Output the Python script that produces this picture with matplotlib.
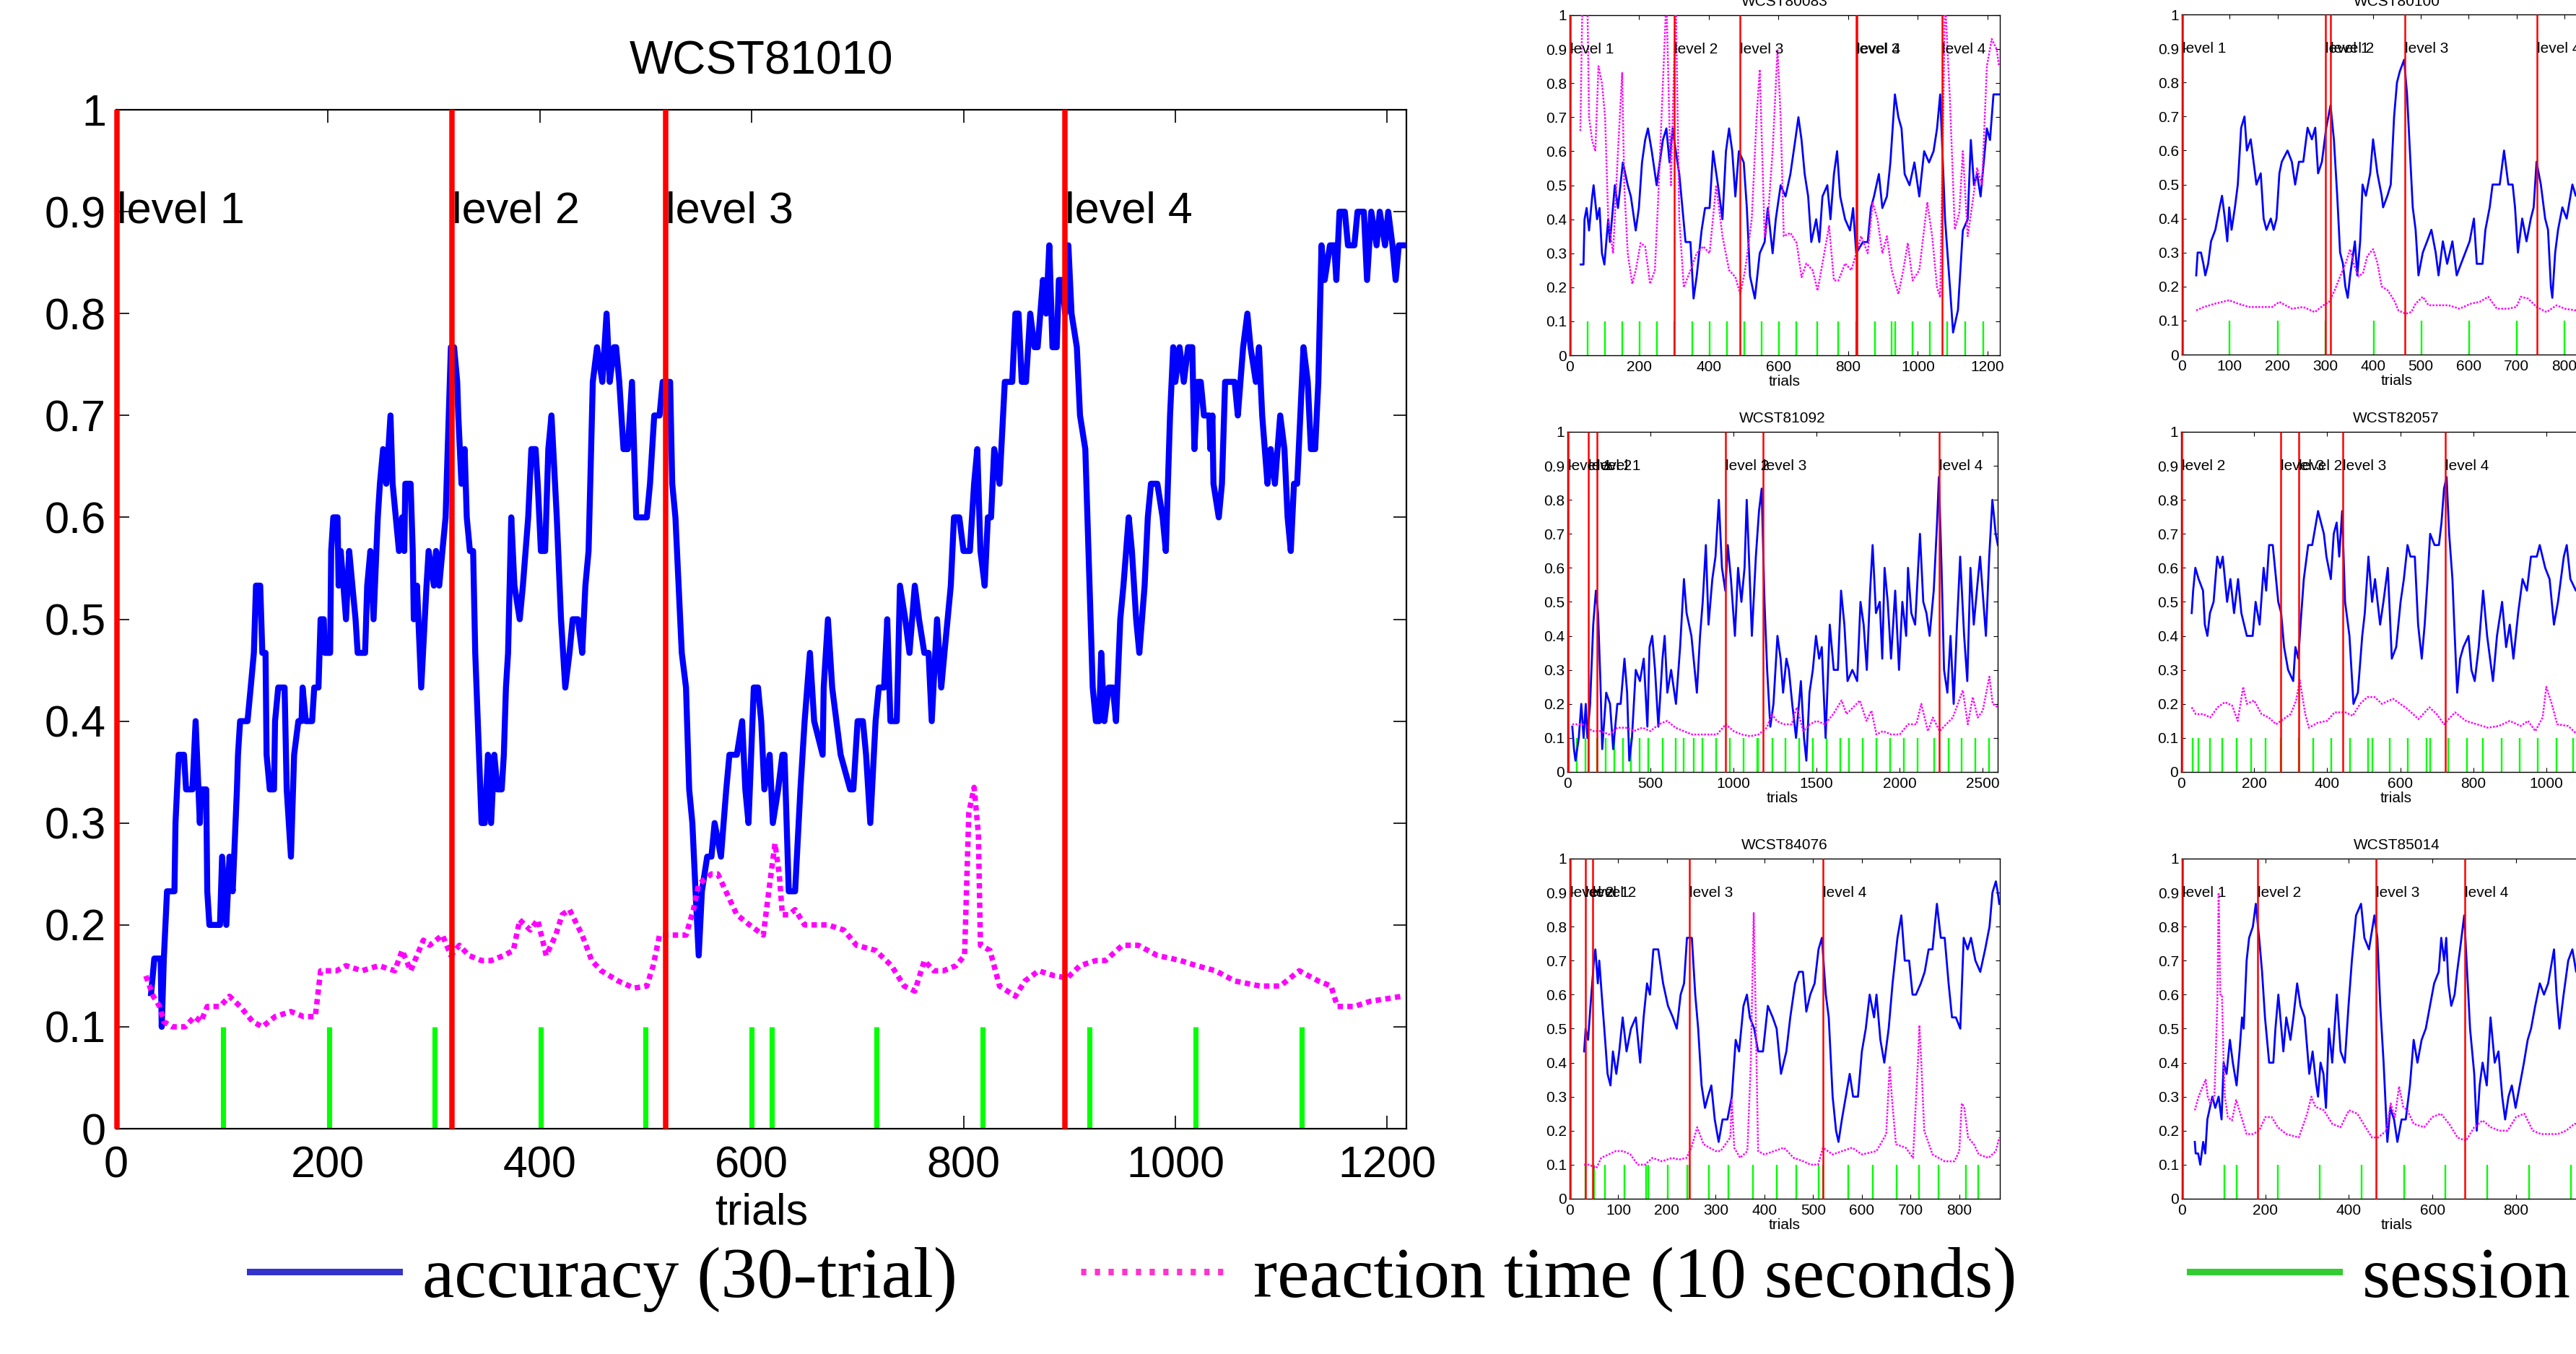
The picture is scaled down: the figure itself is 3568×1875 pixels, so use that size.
import matplotlib
matplotlib.use("Agg")
import matplotlib.pyplot as plt
from matplotlib.lines import Line2D

plt.rcParams['font.family'] = ['Liberation Sans', 'DejaVu Sans']

# ---------------------------------------------------------------- data
# accuracy / reaction time as (trial, value)

main_title = "WCST81010"
main_acc = [(33,0.133),(36,0.167),(42,0.167),(43,0.1),(45,0.167),(48,0.233),(55,0.233),(56,0.3),(59,0.367),(64,0.367),(66,0.333),(72,0.333),(75,0.4),(79,0.3),(80,0.333),(85,0.333),(86,0.233),(88,0.2),(98,0.2),(100,0.267),(104,0.2),(107,0.267),(110,0.233),(114,0.333),(115,0.367),(117,0.4),(124,0.4),(127,0.433),(130,0.467),(132,0.533),(136,0.533),(138,0.467),(141,0.467),(142,0.367),(145,0.333),(149,0.333),(150,0.4),(153,0.433),(159,0.433),(161,0.333),(165,0.267),(168,0.367),(172,0.4),(175,0.4),(176,0.433),(179,0.4),(185,0.4),(187,0.433),(191,0.433),(193,0.5),(196,0.5),(197,0.467),(202,0.467),(203,0.567),(205,0.6),(209,0.6),(210,0.533),(212,0.567),(217,0.5),(220,0.567),(223,0.533),(226,0.5),(228,0.467),(235,0.467),(236,0.5),(237,0.533),(240,0.567),(243,0.5),(247,0.6),(249,0.633),(252,0.667),(255,0.633),(257,0.667),(259,0.7),(261,0.633),(264,0.6),(267,0.567),(270,0.6),(272,0.567),(273,0.633),(278,0.633),(280,0.567),(281,0.5),(284,0.533),(288,0.433),(293,0.533),(295,0.567),(300,0.533),(302,0.567),(305,0.533),(308,0.567),(311,0.6),(313,0.667),(316,0.767),(319,0.767),(322,0.733),(323,0.7),(326,0.633),(329,0.667),(331,0.6),(334,0.567),(337,0.567),(339,0.467),(345,0.3),(348,0.3),(351,0.367),(354,0.3),(357,0.367),(360,0.333),(364,0.333),(366,0.367),
            (368,0.433),(370,0.467),(373,0.6),(376,0.533),(381,0.5),(384,0.533),(389,0.6),(392,0.667),(396,0.667),(398,0.633),(401,0.567),(405,0.567),(408,0.667),(411,0.7),(416,0.6),(420,0.5),(424,0.433),(428,0.467),(431,0.5),(436,0.5),(440,0.467),(443,0.533),(446,0.567),(450,0.733),(454,0.767),(459,0.733),(463,0.8),(466,0.733),(470,0.767),(472,0.767),(475,0.733),(479,0.667),(483,0.667),(487,0.733),(491,0.6),(495,0.6),(501,0.6),(504,0.633),(508,0.7),(513,0.7),(516,0.733),(523,0.733),(525,0.633),(528,0.6),(531,0.533),(534,0.467),(538,0.433),(541,0.333),(544,0.3),(547,0.233),(550,0.17),(553,0.233),(558,0.267),(562,0.267),(565,0.3),(571,0.267),(576,0.333),(579,0.367),(586,0.367),(591,0.4),(594,0.333),(597,0.3),(602,0.433),(606,0.433),(609,0.4),(612,0.333),(617,0.367),(620,0.3),(625,0.333),(629,0.367),(631,0.367),(635,0.233),(641,0.233),(646,0.333),(650,0.4),(655,0.467),(659,0.4),(667,0.367),(668,0.433),(672,0.5),(676,0.433),(684,0.367),(693,0.333),(696,0.333),(700,0.4),(705,0.4),(708,0.367),(712,0.3),(717,0.4),(720,0.433),(725,0.433),(728,0.5),(731,0.4),(737,0.4),(740,0.533),(745,0.5),(749,0.467),(754,0.533),(758,0.5),(763,0.467),(767,0.467),(770,0.4),(775,0.5),
            (779,0.433),(782,0.467),(785,0.5),(788,0.533),(791,0.6),(796,0.6),(800,0.567),(806,0.567),(810,0.633),(813,0.667),(816,0.567),(820,0.533),(823,0.6),(826,0.6),(829,0.667),(834,0.633),(839,0.733),(846,0.733),(849,0.8),(852,0.8),(855,0.733),(859,0.733),(863,0.8),(867,0.767),(870,0.767),(875,0.833),(878,0.8),(881,0.867),(884,0.767),(888,0.767),(890,0.833),(893,0.833),(896,0.8),(899,0.867),(902,0.8),(907,0.767),(910,0.7),(915,0.667),(919,0.533),(922,0.433),(925,0.4),(928,0.4),(930,0.467),(933,0.4),(937,0.433),(941,0.433),(944,0.4),(948,0.5),(951,0.533),(956,0.6),(959,0.567),(963,0.5),(966,0.467),(971,0.533),(974,0.6),(977,0.633),(983,0.633),(988,0.6),(991,0.567),(992,0.6),(995,0.7),(998,0.767),(1000,0.733),(1004,0.767),(1008,0.733),(1012,0.767),(1016,0.767),(1018,0.667),(1021,0.733),(1024,0.733),(1027,0.7),(1032,0.7),(1033,0.667),(1035,0.7),(1036,0.633),(1041,0.6),(1044,0.633),(1047,0.733),(1056,0.733),(1059,0.7),(1064,0.767),(1068,0.8),(1071,0.767),(1076,0.733),(1079,0.767),(1082,0.7),(1087,0.633),(1090,0.667),(1094,0.633),(1099,0.7),(1103,0.667),(1106,0.6),(1109,0.567),(1112,0.633),(1115,0.633),(1118,0.7),(1121,0.767),(1125,0.733),(1128,0.667),(1132,0.667),(1135,0.733),(1138,0.867),(1141,0.833),(1146,0.867),(1150,0.867),(1152,0.833),(1155,0.9),(1160,0.9),(1163,0.867),(1169,0.867),(1172,0.9),(1178,0.9),(1181,0.833),(1185,0.9),(1190,0.867),(1193,0.9),(1198,0.867),(1201,0.9),(1205,0.867),(1208,0.833),(1211,0.867),(1217,0.867)]
main_rt = [(28,0.15),(35,0.13),(41,0.12),(45,0.105),(53,0.1),(65,0.1),(74,0.11),(80,0.105),(86,0.12),(98,0.12),(107,0.13),(117,0.12),(129,0.105),(138,0.1),(150,0.11),(165,0.115),(177,0.11),(188,0.11),(193,0.155),(208,0.155),(217,0.16),(232,0.155),(248,0.16),(263,0.155),(270,0.175),(278,0.155),(284,0.17),(290,0.185),(296,0.18),(308,0.19),(316,0.17),(324,0.18),(333,0.17),(345,0.165),(354,0.165),(366,0.17),(375,0.175),(381,0.205),(391,0.195),(398,0.205),(406,0.17),(415,0.19),(421,0.21),(428,0.215),(440,0.19),(449,0.165),(458,0.155),(474,0.145),(489,0.138),(501,0.14),(507,0.16),(513,0.19),(525,0.19),(538,0.19),(545,0.215),(550,0.24),(562,0.25),(568,0.25),(577,0.23),(586,0.21),(598,0.2),(611,0.19),(617,0.24),(622,0.28),(626,0.25),(629,0.21),(635,0.21),(641,0.215),(650,0.2),(659,0.2),(672,0.2),(687,0.195),(699,0.18),(717,0.175),(732,0.16),(744,0.14),(754,0.135),(763,0.165),(772,0.155),(781,0.155),(793,0.16),(801,0.17),(805,0.31),(810,0.335),(814,0.29),(816,0.18),(825,0.175),(834,0.14),(849,0.13),(858,0.145),(871,0.155),(886,0.15),(898,0.148),(910,0.16),(925,0.165),(934,0.165),(950,0.18),(965,0.18),(983,0.17),(1005,0.165),(1020,0.16),(1038,0.155),(1056,0.145),(1080,0.14),(1099,0.14),(1117,0.155),(1135,0.145),(1147,0.14),(1153,0.12),(1169,0.12),(1184,0.125),(1202,0.128),(1214,0.13)]
main_levels = [1, 317, 519, 896]
main_level_names = ["level 1", "level 2", "level 3", "level 4"]
main_sessions = [101, 201, 301, 401, 500, 600, 619, 718, 818, 919, 1019, 1119]
main_xticks = [0, 200, 400, 600, 800, 1000, 1200]

a_title = "WCST80083"
a_acc = [(32,0.267),(40,0.267),(43,0.4),(49,0.433),(56,0.367),(65,0.467),(69,0.5),(79,0.4),(86,0.433),(93,0.3),(100,0.267),(111,0.4),(116,0.333),(130,0.5),(139,0.433),(153,0.567),(167,0.5),(176,0.467),(190,0.367),(199,0.433),(208,0.567),(217,0.633),(225,0.667),(236,0.6),(250,0.5),(259,0.567),(268,0.633),(278,0.667),(287,0.567),(296,0.667),(305,0.6),(315,0.533),(324,0.433),(333,0.333),(347,0.333),(356,0.167),(365,0.233),(379,0.367),(389,0.433),(402,0.433),(412,0.6),(426,0.5),(439,0.4),(449,0.6),(458,0.667),(467,0.6),(476,0.467),(486,0.6),(500,0.567),(509,0.433),(518,0.233),(532,0.167),(546,0.3),(560,0.333),(569,0.433),(583,0.3),(592,0.4),(606,0.5),(620,0.467),(634,0.533),(648,0.633),(657,0.7),(666,0.633),(675,0.533),(685,0.467),(694,0.333),(708,0.4),(717,0.333),(726,0.467),(740,0.5),(749,0.4),(759,0.533),(768,0.6),(777,0.467),(791,0.4),(805,0.367),(814,0.433),(823,0.3),(842,0.333),(856,0.333),(865,0.433),(874,0.467),(888,0.533),(898,0.433),(911,0.467),(921,0.567),(934,0.767),(944,0.7),(953,0.667),(962,0.533),(976,0.5),(990,0.567),(1004,0.467),(1018,0.6),(1032,0.567),(1045,0.6),(1055,0.667),(1064,0.767),(1078,0.4),(1092,0.2),(1101,0.067),(1115,0.133),(1129,0.367),(1143,0.4),(1152,0.633),(1161,0.5),(1170,0.533),(1180,0.467),(1189,0.567),(1198,0.667),(1207,0.633),(1217,0.767),(1233,0.767)]
a_rt = [(31,0.66),(37,1.05),(51,1.05),(56,0.7),(65,0.63),(74,0.6),(83,0.85),(93,0.8),(102,0.7),(111,0.4),(125,0.3),(139,0.6),(151,0.83),(157,0.5),(167,0.3),(180,0.21),(190,0.25),(204,0.33),(217,0.32),(231,0.21),(245,0.25),(254,0.45),(268,0.8),(278,1.05),(291,0.5),(305,1.05),(315,0.4),(328,0.2),(347,0.25),(365,0.3),(384,0.32),(402,0.3),(421,0.5),(439,0.35),(458,0.25),(476,0.23),(490,0.18),(504,0.25),(523,0.4),(537,0.7),(546,0.84),(560,0.35),(569,0.4),(583,0.6),(597,0.9),(606,0.7),(615,0.35),(634,0.36),(652,0.33),(666,0.23),(680,0.27),(698,0.25),(712,0.19),(726,0.27),(745,0.38),(759,0.22),(772,0.22),(791,0.27),(809,0.25),(823,0.3),(837,0.35),(856,0.3),(870,0.45),(884,0.4),(898,0.3),(911,0.35),(925,0.25),(944,0.18),(958,0.25),(971,0.33),(985,0.22),(1004,0.25),(1027,0.45),(1041,0.35),(1055,0.2),(1064,0.17),(1078,1.05),(1092,0.75),(1106,0.37),(1119,0.42),(1129,0.6),(1143,0.35),(1157,0.45),(1170,0.55),(1184,0.5),(1198,0.85),(1212,0.93),(1226,0.9),(1233,0.85)]
a_levels = [2, 301, 489, 822, 825, 1069]
a_level_names = ["level 1", "level 2", "level 3", "level 3", "level 4", "level 4"]
a_sessions = [52,102,152,202,251,301,352,402,452,501,551,601,651,711,771,822,825,876,925,934,985,1035,1085,1136,1187]
a_xticks = [0, 200, 400, 600, 800, 1000, 1200]

b_title = "WCST80100"
b_acc = [(30,0.233),(33,0.3),(40,0.3),(45,0.267),(49,0.233),(55,0.267),(61,0.333),(70,0.367),(79,0.433),(84,0.467),(90,0.4),(95,0.333),(99,0.433),(104,0.367),(111,0.433),(117,0.5),(124,0.667),(131,0.7),(136,0.6),(144,0.633),(150,0.567),(156,0.5),(165,0.533),(171,0.4),(177,0.367),(186,0.4),(192,0.367),(198,0.4),(204,0.533),(209,0.567),(221,0.6),(230,0.567),(237,0.5),(245,0.567),(254,0.567),(263,0.667),(272,0.633),(279,0.667),(285,0.533),(293,0.567),(302,0.667),(311,0.733),(318,0.633),(325,0.467),(331,0.3),(337,0.267),(342,0.2),(347,0.167),(352,0.233),(362,0.333),(367,0.233),(373,0.333),(378,0.5),(385,0.467),(394,0.533),(400,0.633),(409,0.533),(418,0.467),(421,0.433),(430,0.467),(437,0.5),(444,0.7),(450,0.8),(456,0.833),(465,0.867),(471,0.767),(477,0.6),(483,0.433),(489,0.367),(495,0.233),(504,0.3),(513,0.333),(522,0.367),(531,0.3),(537,0.233),(546,0.333),(555,0.267),(566,0.333),(575,0.233),(584,0.267),(593,0.3),(602,0.333),(611,0.4),(617,0.267),(629,0.267),(635,0.367),(644,0.433),(650,0.5),(665,0.5),(674,0.6),(683,0.5),(692,0.5),(697,0.433),(703,0.3),(712,0.4),(721,0.333),(730,0.4),(736,0.433),(742,0.567),(751,0.5),(760,0.4),(766,0.367),(772,0.2),(775,0.167),(781,0.3),(787,0.367),(796,0.433),(805,0.4),(817,0.5),(824,0.467),(840,0.5)]
b_rt = [(30,0.13),(46,0.14),(70,0.15),(99,0.16),(117,0.15),(141,0.14),(171,0.14),(189,0.14),(204,0.155),(230,0.135),(254,0.14),(278,0.125),(296,0.145),(308,0.155),(320,0.19),(334,0.24),(343,0.27),(352,0.31),(361,0.26),(370,0.23),(379,0.24),(388,0.29),(400,0.31),(409,0.27),(418,0.2),(430,0.19),(444,0.16),(453,0.13),(468,0.12),(480,0.125),(489,0.15),(504,0.17),(516,0.145),(534,0.145),(558,0.145),(581,0.135),(605,0.15),(623,0.155),(641,0.17),(659,0.135),(682,0.135),(700,0.14),(709,0.17),(724,0.165),(742,0.14),(763,0.125),(784,0.145),(801,0.135),(824,0.13),(840,0.13)]
b_levels = [1, 300, 311, 467, 743]
b_level_names = ["level 1", "level 1", "level 2", "level 3", "level 4"]
b_sessions = [100, 201, 300, 401, 501, 601, 701, 801]
b_xticks = [0, 100, 200, 300, 400, 500, 600, 700, 800, 900]

c_title = "WCST81092"
c_acc = [(29,0.133),(39,0.067),(48,0.033),(68,0.1),(83,0.2),(97,0.1),(110,0.2),(120,0.1),(136,0.2),(155,0.433),(171,0.533),(184,0.467),(198,0.267),(209,0.067),(233,0.233),(256,0.2),(275,0.067),(300,0.2),(320,0.2),(343,0.333),(359,0.233),(372,0.033),(388,0.1),(411,0.3),(436,0.267),(459,0.333),(481,0.133),(494,0.367),(510,0.4),(527,0.3),(547,0.133),(572,0.333),(585,0.4),(601,0.233),(624,0.3),(653,0.2),(678,0.367),(701,0.567),(717,0.467),(746,0.4),(766,0.3),(779,0.233),(798,0.4),(814,0.5),(833,0.667),(849,0.433),(872,0.567),(891,0.633),(911,0.8),(930,0.6),(950,0.533),(965,0.667),(984,0.567),(1008,0.4),(1027,0.6),(1047,0.5),(1066,0.6),(1079,0.8),(1095,0.6),(1110,0.4),(1134,0.633),(1153,0.767),(1169,0.833),(1186,0.5),(1202,0.3),(1221,0.133),(1240,0.2),(1264,0.4),(1283,0.333),(1298,0.233),(1318,0.333),(1333,0.3),(1353,0.2),(1376,0.1),(1405,0.267),(1424,0.1),(1438,0.033),(1457,0.233),(1477,0.3),(1496,0.4),(1515,0.333),(1531,0.367),(1554,0.1),(1579,0.433),(1603,0.3),(1628,0.3),(1647,0.533),(1667,0.433),(1686,0.267),(1715,0.3),(1744,0.267),(1764,0.5),(1783,0.433),(1802,0.3),(1822,0.533),(1837,0.667),(1857,0.467),(1880,0.5),(1895,0.333),(1909,0.6),(1928,0.5),(1948,0.333),(1973,0.533),(1996,0.3),(2016,0.5),(2039,0.4),(2050,0.6),(2070,0.467),(2093,0.433),(2122,0.7),(2142,0.5),(2161,0.467),(2180,0.4),(2205,0.533),(2225,0.733),(2236,0.867),(2252,0.6),(2267,0.3),(2287,0.233),(2306,0.4),(2325,0.2),(2345,0.433),(2364,0.633),(2388,0.4),(2407,0.267),(2426,0.6),(2446,0.433),(2471,0.567),(2484,0.633),(2504,0.5),(2519,0.4),(2539,0.633),(2558,0.8),(2578,0.7),(2591,0.667)]
c_rt = [(29,0.14),(100,0.14),(150,0.12),(200,0.12),(250,0.11),(300,0.13),(350,0.13),(400,0.12),(450,0.13),(500,0.12),(550,0.14),(600,0.15),(650,0.13),(700,0.12),(750,0.11),(800,0.11),(900,0.11),(953,0.14),(1000,0.12),(1050,0.11),(1100,0.105),(1150,0.11),(1200,0.13),(1230,0.17),(1260,0.15),(1300,0.14),(1350,0.14),(1380,0.19),(1420,0.12),(1460,0.14),(1500,0.15),(1550,0.14),(1600,0.17),(1650,0.21),(1680,0.17),(1720,0.19),(1760,0.21),(1800,0.15),(1830,0.18),(1860,0.11),(1900,0.12),(1950,0.11),(2000,0.11),(2050,0.14),(2100,0.14),(2130,0.2),(2170,0.12),(2200,0.16),(2240,0.12),(2280,0.14),(2320,0.16),(2350,0.2),(2380,0.24),(2410,0.14),(2440,0.22),(2470,0.16),(2500,0.18),(2540,0.28),(2560,0.2),(2590,0.19)]
c_levels = [4, 126, 176, 953, 1176, 2238]
c_level_names = ["level 1", "level 2", "level 1", "level 2", "level 3", "level 4"]
c_sessions = [6,58,107,126,178,229,281,333,384,436,488,572,653,701,762,814,895,978,1060,1143,1149,1234,1314,1395,1477,1562,1641,1696,1777,1860,1942,2026,2107,2209,2293,2374,2457,2539]
c_xticks = [0, 500, 1000, 1500, 2000, 2500]

d_title = "WCST82057"
d_acc = [(29,0.467),(33,0.533),(39,0.6),(48,0.567),(60,0.533),(65,0.433),(72,0.4),(79,0.467),(89,0.5),(99,0.633),(107,0.6),(114,0.633),(126,0.5),(135,0.567),(145,0.467),(156,0.567),(165,0.467),(180,0.4),(196,0.4),(204,0.5),(215,0.433),(226,0.6),(233,0.533),(241,0.667),(251,0.667),(260,0.567),(266,0.5),(274,0.467),(282,0.367),(293,0.3),(307,0.267),(313,0.367),(321,0.333),(327,0.433),(336,0.567),(348,0.667),(359,0.667),(375,0.767),(391,0.7),(398,0.633),(410,0.567),(418,0.7),(426,0.733),(433,0.633),(441,0.767),(449,0.5),(461,0.4),(472,0.2),(484,0.233),(496,0.4),(503,0.467),(513,0.633),(523,0.5),(531,0.567),(545,0.433),(554,0.5),(566,0.6),(577,0.333),(589,0.367),(601,0.5),(610,0.567),(620,0.667),(628,0.633),(640,0.633),(649,0.433),(659,0.333),(667,0.433),(675,0.567),(682,0.7),(694,0.667),(706,0.667),(713,0.733),(720,0.833),(727,0.867),(734,0.7),(743,0.567),(748,0.433),(756,0.233),(764,0.333),(773,0.367),(787,0.4),(795,0.3),(804,0.267),(815,0.367),(827,0.533),(838,0.4),(854,0.267),(865,0.4),(879,0.5),(890,0.367),(900,0.433),(910,0.333),(923,0.467),(935,0.567),(947,0.533),(958,0.633),(974,0.633),(982,0.667),(997,0.6),(1009,0.567),(1021,0.433),(1032,0.5),(1048,0.633),(1056,0.667),(1066,0.567),(1081,0.533),(1095,0.55)]
d_rt = [(29,0.19),(40,0.17),(60,0.17),(80,0.16),(100,0.19),(120,0.205),(140,0.195),(155,0.15),(170,0.25),(180,0.2),(200,0.21),(220,0.17),(240,0.16),(260,0.14),(280,0.155),(300,0.17),(315,0.21),(325,0.27),(340,0.17),(350,0.13),(375,0.145),(400,0.15),(420,0.175),(450,0.175),(470,0.165),(490,0.2),(510,0.22),(530,0.22),(550,0.2),(580,0.215),(600,0.2),(620,0.185),(650,0.155),(680,0.19),(700,0.17),(720,0.14),(750,0.175),(780,0.15),(810,0.14),(840,0.13),(870,0.135),(900,0.15),(930,0.135),(950,0.15),(970,0.12),(990,0.16),(1000,0.25),(1015,0.2),(1030,0.14),(1060,0.135),(1080,0.115),(1095,0.12)]
d_levels = [2, 272, 322, 443, 723]
d_level_names = ["level 2", "level 3", "level 2", "level 3", "level 4"]
d_sessions = [31,48,80,112,152,192,232,272,322,362,412,462,512,523,572,621,672,682,731,782,826,877,927,977,1027,1073]
d_xticks = [0, 200, 400, 600, 800, 1000]

e_title = "WCST84076"
e_acc = [(30,0.433),(33,0.5),(38,0.467),(43,0.567),(50,0.7),(53,0.733),(58,0.633),(61,0.7),(66,0.6),(73,0.467),(78,0.367),(84,0.333),(89,0.433),(96,0.367),(102,0.433),(109,0.533),(117,0.433),(126,0.5),(136,0.533),(145,0.4),(152,0.533),(159,0.633),(165,0.6),(172,0.733),(182,0.733),(192,0.633),(202,0.567),(212,0.533),(220,0.5),(228,0.6),(235,0.633),(241,0.767),(251,0.767),(258,0.6),(264,0.5),(271,0.333),(278,0.267),(284,0.3),(291,0.333),(298,0.233),(306,0.167),(314,0.233),(324,0.233),(333,0.3),(341,0.467),(348,0.433),(357,0.567),(364,0.6),(370,0.533),(379,0.5),(387,0.433),(397,0.433),(407,0.567),(417,0.533),(425,0.5),(434,0.367),(445,0.433),(453,0.533),(463,0.633),(471,0.667),(479,0.667),(486,0.55),(494,0.6),(503,0.633),(511,0.733),(518,0.767),(526,0.6),(532,0.533),(540,0.3),(547,0.2),(552,0.167),(559,0.233),(567,0.3),(575,0.367),(582,0.3),(592,0.3),(600,0.433),(608,0.5),(616,0.6),(625,0.533),(630,0.6),(638,0.467),(646,0.4),(655,0.5),(663,0.633),(673,0.767),(681,0.833),(688,0.7),(697,0.7),(704,0.6),(711,0.6),(721,0.633),(729,0.667),(737,0.733),(745,0.733),(754,0.867),(762,0.767),(770,0.767),(778,0.633),(785,0.533),(793,0.533),(802,0.5),(809,0.767),(817,0.733),(824,0.767),(833,0.7),(843,0.667),(853,0.733),(862,0.8),(868,0.9),(875,0.933),(879,0.9),(882,0.867)]
e_rt = [(30,0.1),(40,0.1),(55,0.09),(65,0.12),(80,0.13),(95,0.14),(110,0.14),(125,0.13),(140,0.1),(155,0.1),(170,0.12),(190,0.11),(210,0.12),(225,0.115),(240,0.12),(250,0.15),(262,0.21),(275,0.16),(300,0.14),(310,0.14),(320,0.16),(330,0.18),(333,0.29),(338,0.15),(350,0.12),(365,0.14),(372,0.4),(378,0.84),(382,0.55),(387,0.14),(400,0.13),(420,0.14),(440,0.15),(460,0.12),(480,0.11),(495,0.1),(510,0.1),(520,0.15),(540,0.13),(560,0.14),(580,0.15),(600,0.13),(630,0.14),(650,0.19),(657,0.39),(662,0.29),(670,0.16),(690,0.15),(705,0.12),(715,0.4),(718,0.51),(722,0.4),(728,0.2),(745,0.13),(770,0.11),(790,0.11),(800,0.14),(805,0.28),(810,0.27),(818,0.18),(830,0.16),(840,0.13),(860,0.12),(875,0.14),(882,0.18)]
e_levels = [1, 32, 48, 246, 520]
e_level_names = ["level 2", "level 1", "level 2", "level 3", "level 4"]
e_sessions = [32,50,72,112,157,161,201,241,246,286,326,376,426,466,511,520,572,622,672,718,758,813,839]
e_xticks = [0, 100, 200, 300, 400, 500, 600, 700, 800]

f_title = "WCST85014"
f_acc = [(31,0.167),(33,0.133),(39,0.133),(44,0.1),(51,0.167),(56,0.133),(61,0.233),(67,0.267),(73,0.3),(80,0.267),(88,0.3),(95,0.233),(100,0.4),(107,0.367),(115,0.467),(122,0.4),(131,0.333),(138,0.433),(144,0.533),(148,0.5),(155,0.7),(161,0.767),(170,0.8),(177,0.867),(185,0.767),(192,0.667),(199,0.533),(209,0.4),(219,0.4),(224,0.5),(231,0.6),(243,0.433),(250,0.533),(260,0.467),(267,0.533),(276,0.633),(284,0.567),(294,0.533),(305,0.367),(313,0.433),(322,0.333),(326,0.3),(332,0.4),(339,0.367),(345,0.267),(352,0.5),(360,0.4),(371,0.6),(380,0.433),(390,0.4),(399,0.567),(407,0.7),(417,0.833),(429,0.867),(437,0.767),(448,0.733),(461,0.833),(468,0.767),(475,0.567),(483,0.4),(492,0.167),(499,0.267),(508,0.233),(516,0.167),(526,0.233),(536,0.233),(546,0.333),(555,0.467),(564,0.4),(574,0.467),(584,0.5),(594,0.567),(604,0.633),(615,0.667),(621,0.767),(628,0.7),(633,0.767),(638,0.633),(645,0.567),(653,0.6),(659,0.667),(666,0.733),(676,0.833),(683,0.667),(690,0.5),(700,0.367),(706,0.2),(713,0.333),(720,0.4),(730,0.333),(739,0.533),(749,0.4),(758,0.433),(767,0.3),(774,0.233),(782,0.3),(790,0.333),(799,0.267),(809,0.333),(819,0.4),(828,0.467),(836,0.5),(846,0.567),(857,0.633),(867,0.6),(877,0.633),(891,0.733),(897,0.6),(904,0.5),(914,0.6),(925,0.7),(935,0.733),(944,0.667),(960,0.7)]
f_rt = [(31,0.26),(40,0.3),(50,0.33),(57,0.35),(62,0.3),(68,0.28),(78,0.3),(85,0.58),(88,0.9),(92,0.6),(96,0.6),(100,0.4),(103,0.3),(110,0.24),(120,0.23),(130,0.29),(140,0.25),(155,0.19),(170,0.19),(185,0.2),(200,0.24),(215,0.24),(230,0.21),(250,0.19),(280,0.18),(300,0.25),(310,0.3),(320,0.27),(340,0.26),(360,0.22),(380,0.21),(400,0.26),(420,0.25),(440,0.21),(455,0.18),(470,0.18),(490,0.2),(500,0.28),(510,0.24),(520,0.33),(530,0.27),(540,0.26),(555,0.22),(580,0.21),(600,0.24),(620,0.25),(640,0.22),(660,0.18),(680,0.17),(700,0.21),(720,0.23),(740,0.21),(760,0.2),(780,0.2),(800,0.24),(820,0.25),(840,0.2),(860,0.19),(880,0.19),(900,0.19),(920,0.2),(940,0.22),(960,0.22)]
f_levels = [1, 181, 465, 677]
f_level_names = ["level 1", "level 2", "level 3", "level 4"]
f_sessions = [102, 131, 230, 330, 431, 532, 631, 731, 832, 931]
f_xticks = [0, 200, 400, 600, 800, 1000]

yticks = [0, 0.1, 0.2, 0.3, 0.4, 0.5, 0.6, 0.7, 0.8, 0.9, 1]
ytick_labels = ["0", "0.1", "0.2", "0.3", "0.4", "0.5", "0.6", "0.7", "0.8", "0.9", "1"]
legend_labels = ["accuracy (30-trial)", "reaction time (10 seconds)", "session"]
legend_colors = ["#3333CC", "#FF33CC", "#33CC33"]

# ---------------------------------------------------------------- drawing

def panel(ax, acc, rt, levels, names, sessions, xmax, xticks, title, big=False):
    fs = 44 if big else 15
    lw = 6.0 if big else 2.0
    t, v = zip(*acc)
    ax.plot(t, v, color="#0000FF", lw=lw, zorder=3)
    t, v = zip(*rt)
    ax.plot(t, v, color="#FF00FF", lw=lw * 0.9, ls=(0, (1.0, 0.8)), zorder=3)
    ax.vlines(sessions, 0, 0.1, color="#00FF00", lw=lw * 0.85, zorder=2, clip_on=False)
    ax.vlines(levels, 0, 1, color="#FF0000", lw=lw * 0.9, zorder=4, clip_on=False)
    for x, s in zip(levels, names):
        ax.text(x, 0.9, s, fontsize=fs, ha="left", va="center", zorder=5)
    ax.set_xlim(0, xmax)
    ax.set_ylim(0, 1)
    ax.set_xticks(xticks)
    ax.set_yticks(yticks)
    ax.set_yticklabels(ytick_labels)
    ax.tick_params(direction="in", top=True, right=True, labelsize=fs,
                   length=13 if big else 4, width=1.2 if big else 0.8,
                   pad=10 if big else 3)
    ax.tick_params(axis="x", pad=17 if big else 5)
    for sp in ax.spines.values():
        sp.set_linewidth(1.6 if big else 1.0)
    ax.set_xlabel("trials", fontsize=fs, labelpad=6 if big else 1)
    ax.set_title(title, fontsize=fs + 2 if big else fs, pad=36 if big else 9)


fig = plt.figure(figsize=(35.68, 18.75), dpi=100)

ax = fig.add_axes([0.0451, 0.1664, 0.5008, 0.7525])
panel(ax, main_acc, main_rt, main_levels, main_level_names, main_sessions, 1218, main_xticks, main_title, big=True)

w, h = 0.1670, 0.2512
ax = fig.add_axes([0.6093, 0.7376, w, h])
panel(ax, a_acc, a_rt, a_levels, a_level_names, a_sessions, 1235, a_xticks, a_title)
ax = fig.add_axes([0.8470, 0.7381, w, h])
panel(ax, b_acc, b_rt, b_levels, b_level_names, b_sessions, 900, b_xticks, b_title)
ax = fig.add_axes([0.6085, 0.4299, w, h])
panel(ax, c_acc, c_rt, c_levels, c_level_names, c_sessions, 2590, c_xticks, c_title)
ax = fig.add_axes([0.8467, 0.4299, w, h])
panel(ax, d_acc, d_rt, d_levels, d_level_names, d_sessions, 1178, d_xticks, d_title)
ax = fig.add_axes([0.6093, 0.1147, w, h])
panel(ax, e_acc, e_rt, e_levels, e_level_names, e_sessions, 883, e_xticks, e_title)
ax = fig.add_axes([0.8470, 0.1147, w, h])
panel(ax, f_acc, f_rt, f_levels, f_level_names, f_sessions, 1030, f_xticks, f_title)

# one legend entry per block, MATLAB-style spacing
styles = ["-", (0, (0.8, 1.3)), "-"]
anchors = [0.0970, 0.4196, 0.8501]
for lab, col, ls, x0 in zip(legend_labels, legend_colors, styles, anchors):
    hnd = Line2D([], [], color=col, lw=6.5, ls=ls, dash_capstyle="butt")
    fig.legend([hnd], [lab], loc="center left", bbox_to_anchor=(x0, 0.055),
               frameon=False, prop={"family": ["Liberation Serif", "DejaVu Serif"], "size": 72},
               handlelength=2.07, handletextpad=0.32, borderpad=0, borderaxespad=0)

fig.savefig("out.png", dpi=100)
